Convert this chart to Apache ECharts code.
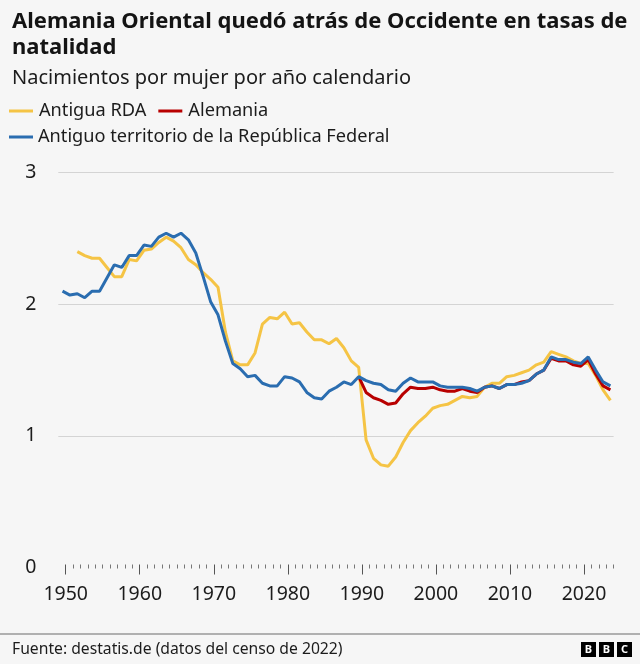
<!DOCTYPE html>
<html>
<head>
<meta charset="utf-8">
<script src="https://cdn.jsdelivr.net/npm/echarts@6/dist/echarts.min.js"></script>
<style>
  html, body { margin: 0; padding: 0; background: #f6f6f6; }
  #chart { width: 640px; height: 664px; }
</style>
</head>
<body>
<div id="chart"></div>
<script>
// ---- Data (births per woman, by calendar year) ----
const westYears = [];
for (let y = 1950; y <= 2024; y++) westYears.push(y);
const westValues = [
  2.10, 2.07, 2.08, 2.05, 2.10, 2.10, 2.20, 2.30, 2.28, 2.37,
  2.37, 2.45, 2.44, 2.51, 2.54, 2.51, 2.54, 2.49, 2.39, 2.21,
  2.02, 1.92, 1.72, 1.55, 1.51, 1.45, 1.46, 1.40, 1.38, 1.38,
  1.45, 1.44, 1.41, 1.33, 1.29, 1.28, 1.34, 1.37, 1.41, 1.39,
  1.45, 1.42, 1.40, 1.39, 1.35, 1.34, 1.40, 1.44, 1.41, 1.41,
  1.41, 1.38, 1.37, 1.37, 1.37, 1.36, 1.34, 1.37, 1.38, 1.36,
  1.39, 1.39, 1.40, 1.42, 1.47, 1.50, 1.60, 1.58, 1.58, 1.56,
  1.55, 1.60, 1.50, 1.41, 1.38
];

const eastYears = [];
for (let y = 1952; y <= 2024; y++) eastYears.push(y);
const eastValues = [
  2.40, 2.37, 2.35, 2.35, 2.28, 2.21, 2.21, 2.34,
  2.33, 2.41, 2.42, 2.47, 2.51, 2.48, 2.43, 2.34, 2.30, 2.24,
  2.19, 2.13, 1.79, 1.57, 1.54, 1.54, 1.63, 1.85, 1.90, 1.89,
  1.94, 1.85, 1.86, 1.79, 1.73, 1.73, 1.70, 1.74, 1.67, 1.57,
  1.52, 0.97, 0.83, 0.78, 0.77, 0.84, 0.95, 1.04, 1.10, 1.15,
  1.21, 1.23, 1.24, 1.27, 1.30, 1.29, 1.30, 1.37, 1.40, 1.40,
  1.45, 1.46, 1.48, 1.50, 1.54, 1.56, 1.64, 1.62, 1.60, 1.57,
  1.55, 1.55, 1.46, 1.35, 1.27
];

const germanyYears = [];
for (let y = 1990; y <= 2024; y++) germanyYears.push(y);
const germanyValues = [
  1.45, 1.33, 1.29, 1.27, 1.24, 1.25, 1.32, 1.37, 1.36, 1.36,
  1.37, 1.35, 1.34, 1.34, 1.36, 1.34, 1.33, 1.37, 1.38, 1.36,
  1.39, 1.39, 1.41, 1.42, 1.47, 1.50, 1.59, 1.57, 1.57, 1.54,
  1.53, 1.58, 1.47, 1.38, 1.35
];

const xTickLabels = [1950, 1960, 1970, 1980, 1990, 2000, 2010, 2020];
const minorTickYears = [];
for (let y = 1950; y <= 2024; y++) if (y % 10 !== 0) minorTickYears.push(y);

const seriesNames = ['Antigua RDA', 'Alemania', 'Antiguo territorio de la República Federal'];
const seriesColors = ['#f5c445', '#b80000', '#2a6db0'];

// ---- Chart ----
const FONT = '"Noto Sans", Lato, sans-serif';
const TEXT = '#1c1c1c';
const pairs = (xs, vs) => xs.map((x, i) => [x, vs[i]]);

const chart = echarts.init(document.getElementById('chart'), null, { renderer: 'canvas' });
chart.setOption({
  backgroundColor: '#f6f6f6',
  animation: false,
  textStyle: { fontFamily: FONT, color: TEXT },
  title: [
    { text: 'Alemania Oriental quedó atrás de Occidente en tasas de\nnatalidad', left: 7, top: 4,
      textStyle: { fontFamily: FONT, fontSize: 22, fontWeight: 'bold', lineHeight: 26, color: '#141414' } },
    { text: 'Nacimientos por mujer por año calendario', left: 7, top: 63,
      textStyle: { fontFamily: FONT, fontSize: 20, fontWeight: 'normal', color: TEXT } },
    { text: 'Fuente: destatis.de (datos del censo de 2022)', left: 7, top: 637,
      textStyle: { fontFamily: FONT, fontSize: 15.7, fontWeight: 'normal', color: TEXT } }
  ],
  legend: [
    { data: [seriesNames[0], seriesNames[1]], left: 9, top: 102, icon: 'rect', itemWidth: 24, itemHeight: 3,
      itemGap: 12, textStyle: { fontFamily: FONT, fontSize: 18.2, color: TEXT, padding: [0, 0, 0, 1] }, selectedMode: false, padding: 0 },
    { data: [seriesNames[2]], left: 9, top: 128, icon: 'rect', itemWidth: 24, itemHeight: 3,
      textStyle: { fontFamily: FONT, fontSize: 18.2, color: TEXT, padding: [0, 0, 0, 0] }, selectedMode: false, padding: 0 }
  ],
  grid: { left: 58.3, right: 26.4, top: 172.7, bottom: 96.5, containLabel: false },
  xAxis: [
    { type: 'value', min: 1949.43, max: 2024.43, show: false },
    { type: 'value', min: 1949, max: 2024, position: 'bottom', offset: -3,
      axisLine: { show: false },
      axisTick: { show: true, length: 10, customValues: xTickLabels, lineStyle: { color: '#555', width: 1 } },
      axisLabel: { customValues: xTickLabels, fontFamily: FONT, fontSize: 19.5, color: TEXT, margin: 20,
                   formatter: (v) => String(v) },
      splitLine: { show: false } },
    { type: 'value', min: 1949, max: 2024, position: 'bottom', offset: -3,
      axisLine: { show: false },
      axisTick: { show: true, length: 4, customValues: minorTickYears, lineStyle: { color: '#777', width: 1 } },
      axisLabel: { show: false },
      splitLine: { show: false } }
  ],
  yAxis: {
    type: 'value', min: 0, max: 3, interval: 1,
    axisLine: { show: false }, axisTick: { show: false },
    axisLabel: { fontFamily: FONT, fontSize: 19.5, color: TEXT, margin: 22 },
    splitLine: { show: true, showMinLine: false, lineStyle: { color: '#d4d4d4', width: 1 } }
  },
  series: [
    { name: seriesNames[0], type: 'line', xAxisIndex: 0, data: pairs(eastYears, eastValues),
      showSymbol: false, color: seriesColors[0], lineStyle: { width: 3, color: seriesColors[0] }, z: 2 },
    { name: seriesNames[1], type: 'line', xAxisIndex: 0, data: pairs(germanyYears, germanyValues),
      showSymbol: false, color: seriesColors[1], lineStyle: { width: 3, color: seriesColors[1] }, z: 3 },
    { name: seriesNames[2], type: 'line', xAxisIndex: 0, data: pairs(westYears, westValues),
      showSymbol: false, color: seriesColors[2], lineStyle: { width: 3, color: seriesColors[2] }, z: 4 }
  ],
  graphic: [
    { type: 'line', shape: { x1: 0, y1: 634, x2: 640, y2: 634 }, style: { stroke: '#999', lineWidth: 1.5 } },
    { type: 'group', left: 581, top: 642, children: [
      { type: 'rect', shape: { x: 0, y: 0, width: 15, height: 15 }, style: { fill: '#000' } },
      { type: 'rect', shape: { x: 18, y: 0, width: 15, height: 15 }, style: { fill: '#000' } },
      { type: 'rect', shape: { x: 36, y: 0, width: 15, height: 15 }, style: { fill: '#000' } },
      { type: 'text', x: 7.5, y: 8, style: { text: 'B', fill: '#fff', font: 'bold 11px "Noto Sans", sans-serif', align: 'center', verticalAlign: 'middle' } },
      { type: 'text', x: 25.5, y: 8, style: { text: 'B', fill: '#fff', font: 'bold 11px "Noto Sans", sans-serif', align: 'center', verticalAlign: 'middle' } },
      { type: 'text', x: 43.5, y: 8, style: { text: 'C', fill: '#fff', font: 'bold 11px "Noto Sans", sans-serif', align: 'center', verticalAlign: 'middle' } }
    ] }
  ]
});
</script>
</body>
</html>
